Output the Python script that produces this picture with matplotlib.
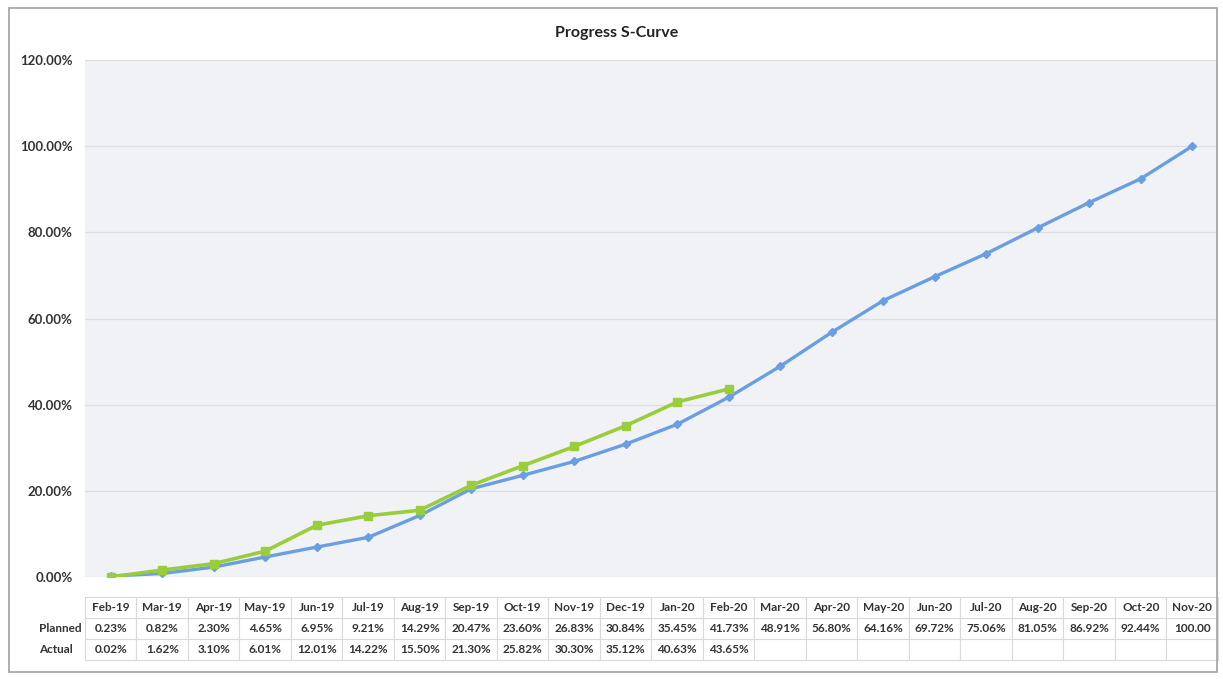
import matplotlib.pyplot as plt
from matplotlib.ticker import FuncFormatter

plt.rcParams['font.family'] = ['Lato', 'DejaVu Sans']

months = ['Feb-19', 'Mar-19', 'Apr-19', 'May-19', 'Jun-19', 'Jul-19', 'Aug-19', 'Sep-19',
          'Oct-19', 'Nov-19', 'Dec-19', 'Jan-20', 'Feb-20', 'Mar-20', 'Apr-20', 'May-20',
          'Jun-20', 'Jul-20', 'Aug-20', 'Sep-20', 'Oct-20', 'Nov-20']
planned = [0.23, 0.82, 2.30, 4.65, 6.95, 9.21, 14.29, 20.47, 23.60, 26.83, 30.84, 35.45,
           41.73, 48.91, 56.80, 64.16, 69.72, 75.06, 81.05, 86.92, 92.44, 100.00]
actual = [0.02, 1.62, 3.10, 6.01, 12.01, 14.22, 15.50, 21.30, 25.82, 30.30, 35.12, 40.63, 43.65]

# table text
planned_txt = ['%.2f%%' % v for v in planned]
planned_txt[-1] = '100.00'
actual_txt = ['%.2f%%' % v for v in actual] + [''] * (len(months) - len(actual))

fig = plt.figure(figsize=(12.23, 6.79), dpi=100)
fig.patch.set_facecolor('white')
# outer frame of the chart
fig.patches.append(plt.Rectangle((0.007, 0.01), 0.988, 0.978, transform=fig.transFigure,
                                 fill=False, edgecolor='#a0a0a0', linewidth=1.2))

ax = fig.add_axes([0.0695, 0.1502, 0.9264, 0.7614])
ax.set_facecolor('#f1f2f6')

x = list(range(len(months)))
ax.plot(x, planned, color='#6a9ee3', lw=2.4, marker='D', ms=4.5, zorder=3)
ax.plot(x[:len(actual)], actual, color='#9acd3c', lw=2.6, marker='s', ms=6, zorder=4)

ax.set_xlim(-0.5, len(months) - 0.5)
ax.set_ylim(0, 120)
ax.set_yticks(range(0, 121, 20))
ax.yaxis.set_major_formatter(FuncFormatter(lambda v, p: '%.2f%%' % v))
ax.tick_params(axis='y', length=0, pad=9, labelsize=9.5, labelcolor='#333333')
for lab in ax.get_yticklabels():
    lab.set_fontweight('bold')
ax.set_xticks([])
ax.grid(axis='y', color='#dcdee2', lw=0.9)
ax.set_axisbelow(True)
for s in ax.spines.values():
    s.set_visible(False)

fig.text(0.504, 0.951, 'Progress S-Curve', fontsize=11.5, fontweight='bold',
         color='#222222', ha='center', va='center')

tbl = ax.table(cellText=[planned_txt, actual_txt], rowLabels=['Planned', 'Actual'],
               colLabels=months, cellLoc='center', rowLoc='left',
               bbox=[0, -0.1605, 1, 0.1218])
tbl.auto_set_font_size(False)
tbl.set_fontsize(8.5)
for (r, c), cell in tbl.get_celld().items():
    cell.set_edgecolor('#d9d9d9')
    cell.set_linewidth(0.8)
    cell.get_text().set_color('#333333')
    cell.get_text().set_fontweight('bold')
    if c == -1:
        cell.set_edgecolor('white')

fig.savefig('out.png', dpi=100, facecolor=fig.get_facecolor())
